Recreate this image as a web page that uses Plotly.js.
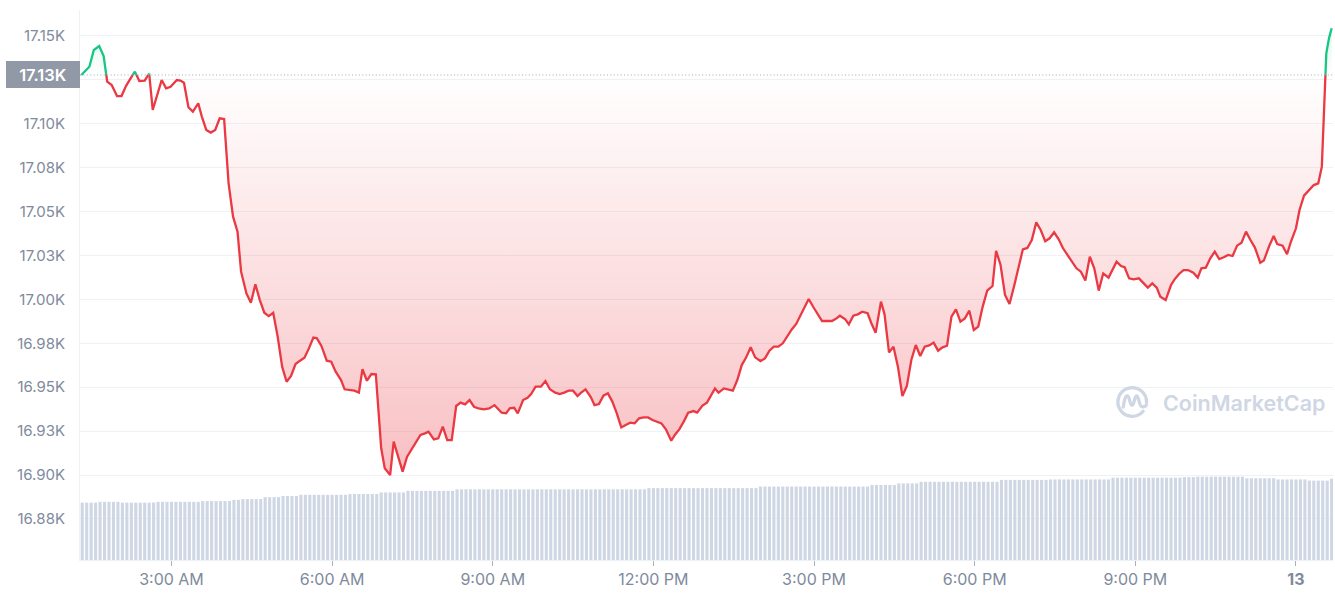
<!DOCTYPE html>
<html>
<head>
<meta charset="utf-8">
<script src="https://cdn.plot.ly/plotly-3.0.1.min.js"></script>
<style>
html,body{margin:0;padding:0;background:#fff;}
#chart{width:1335px;height:600px;}
</style>
</head>
<body>
<div id="chart"></div>
<script>
// ---- DATA ----
// minutes after 00:00 on 2022-12-12
const priceMinutes = [
79,88,93,99,104,108,113,119,124,129,133,139,144,150,155,159,164,169,174,179,186,190,194,199,204,210,214,219,224,229,234,239,244,249,254,258,264,269,274,279,284,289,294,299,304,309,
314,319,324,329,334,339,343,348,354,359,364,370,374,380,385,390,394,399,404,409,415,419,425,429,434,439,444,450,455,459,464,468,474,479,484,489,494,499,504,509,514,519,524,530,536,542,
550,555,559,564,568,574,579,583,588,594,599,604,610,615,620,625,630,635,639,644,650,654,659,664,669,674,679,684,689,694,699,704,709,714,719,724,729,734,740,744,749,754,759,765,769,775,780,
789,793,799,805,809,814,819,824,829,834,840,845,850,855,860,865,870,875,880,886,890,894,899,905,909,914,920,924,929,935,939,944,949,954,960,964,969,975,979,984,989,994,999,1004,1009,1014,
1019,1024,1029,1034,1039,1044,1049,1054,1059,1064,1069,1074,1079,1084,1089,1094,1100,1104,1109,1114,1119,1124,1129,1134,1139,1144,1149,1154,1159,1164,1169,1174,1179,1184,1189,1194,1199,1204,1209,1214,1219,1224,1230,1234,1239,1244,1248,
1253,1258,1264,1269,1274,1279,1284,1288,1294,1300,1304,1309,1314,1319,1325,1330,1334,1339,1344,1349,1354,1359,1364,1369,1374,1379,1384,1389,1394,1400,1404,1410,1415,1419,1425,1430,1434,1440,1444,1449,1455,1460,1465,1469,1474,1477,1480
];
const prices = [
17127.8,17132.5,17142.0,17144.3,17138.6,17124.0,17122.1,17115.8,17115.8,17121.5,17124.9,17129.7,17124.4,17124.6,17128.6,17107.9,17116.4,17124.9,17120.2,17121.1,17124.9,17124.6,17123.4,17109.4,17106.9,17111.7,17104.1,17096.5,17095.0,17096.5,17103.1,17102.7,17066.1,17047.1,17038.6,17015.8,17003.4,16998.1,17008.6,16999.6,16992.4,16990.5,16992.4,16978.8,16961.7,16953.1,
16956.4,16963.2,16965.1,16966.8,16972.1,16978.2,16977.8,16973.5,16965.1,16964.5,16958.8,16954.1,16948.8,16948.4,16948.0,16946.9,16960.2,16953.7,16957.5,16957.3,16915.2,16903.8,16900.0,16919.0,16910.4,16901.9,16910.4,16915.2,16919.0,16922.8,16923.7,16924.7,16920.3,16920.9,16927.5,16919.9,16919.9,16939.3,16941.2,16940.2,16942.7,16938.9,16937.9,16937.4,16937.9,16939.8,
16935.5,16935.1,16938.0,16938.3,16935.1,16942.7,16944.0,16946.1,16950.3,16950.3,16953.5,16948.8,16946.9,16946.1,16946.9,16948.0,16948.0,16945.0,16946.9,16948.8,16944.2,16939.8,16940.4,16945.2,16946.5,16941.8,16935.1,16927.1,16928.5,16929.8,16929.4,16932.3,16932.8,16932.8,16931.3,16930.4,16929.4,16926.0,16919.5,16922.8,16926.0,16930.4,16935.5,16936.4,16935.5,16939.5,16941.2,
16949.3,16946.9,16949.3,16948.4,16948.0,16954.1,16962.6,16967.0,16972.7,16967.0,16964.9,16966.4,16970.8,16973.1,16973.1,16975.0,16979.1,16982.9,16986.0,16992.1,16996.4,17000.2,16995.8,16991.1,16987.7,16987.7,16987.7,16988.8,16990.7,16988.6,16985.8,16990.7,16991.5,16993.0,16992.1,16986.7,16981.0,16998.7,16991.5,16969.8,16973.1,16961.7,16945.0,16950.7,16965.5,16974.0,
16967.8,16973.1,16973.8,16975.4,16970.8,16972.7,16973.6,16990.2,16994.3,16987.3,16989.2,16993.6,16982.6,16984.5,16995.9,17005.0,17007.6,17027.7,17019.6,17002.5,16997.4,17007.2,17017.7,17028.5,17029.3,17033.8,17043.9,17039.5,17033.1,17034.8,17038.2,17034.4,17029.1,17025.3,17021.5,17017.7,17015.8,17010.7,17024.3,17017.7,17005.0,17014.8,17012.4,17016.7,17021.5,17019.0,17018.3,
17012.0,17011.4,17012.0,17009.5,17006.7,17009.1,17006.7,17001.5,16999.6,17008.2,17011.4,17014.5,17016.7,17016.7,17015.2,17012.4,17017.7,17018.1,17023.4,17027.2,17023.0,17024.0,17025.3,17024.7,17030.6,17032.3,17038.6,17033.8,17029.5,17020.9,17022.1,17030.4,17036.1,17031.5,17030.6,17025.7,17032.3,17040.5,17050.9,17059.1,17062.3,17065.1,17066.1,17075.6,17140.1,17148.7,17154.4
];
// 24h volume (billion USD), one bar per 5-minute step starting 01:20
const volumes = [
14.6,14.6,14.6,14.6,14.8,14.8,14.8,14.8,14.8,14.6,14.6,14.6,14.6,14.6,14.6,14.6,14.6,14.8,14.8,14.8,14.8,14.8,14.8,14.8,14.8,14.8,14.8,
15.0,15.0,15.0,15.0,15.0,15.0,15.0,15.3,15.3,15.5,15.5,15.5,15.5,15.5,16.0,16.0,16.0,16.0,16.3,16.3,16.3,16.3,
16.6,16.6,16.6,16.6,16.6,16.6,16.6,16.6,16.6,16.6,16.6,16.8,16.8,16.8,16.8,16.8,16.8,16.8,17.2,17.2,17.2,17.2,17.2,17.2,
17.6,17.6,17.6,17.6,17.6,17.6,17.6,17.6,17.6,17.6,17.6,
18.0,18.0,18.0,18.0,18.0,18.0,18.0,18.0,18.0,18.0,18.0,18.0,18.0,18.0,18.0,18.0,18.0,18.0,18.0,18.0,18.0,18.0,18.0,18.0,18.0,18.0,18.0,18.0,18.0,18.0,18.0,18.0,18.0,18.0,18.0,18.0,18.0,18.0,18.0,18.0,18.0,18.0,18.0,
18.3,18.3,18.3,18.3,18.3,18.3,18.3,18.3,18.3,18.3,18.3,18.3,18.3,18.3,18.3,18.3,18.3,18.3,18.3,18.3,18.3,18.3,18.3,18.3,18.3,
18.7,18.7,18.7,18.7,18.7,18.7,18.7,18.7,18.7,18.7,18.7,18.7,18.7,18.7,18.7,18.7,18.7,18.7,18.7,18.7,18.7,18.7,18.7,18.7,18.7,
19.1,19.1,19.1,19.1,19.1,19.1,19.5,19.5,19.5,19.5,19.5,
19.9,19.9,19.9,19.9,19.9,19.9,19.9,19.9,19.9,19.9,19.9,19.9,19.9,19.9,19.9,19.9,19.9,19.9,
20.4,20.4,20.4,20.4,20.4,20.4,20.4,20.4,20.4,20.4,20.4,
20.5,20.5,20.5,20.5,20.5,20.5,20.5,20.5,20.5,20.5,20.5,20.5,20.5,20.5,
20.95,20.95,20.95,20.95,20.95,20.95,20.95,20.95,20.95,20.95,20.95,20.95,20.95,20.95,20.95,20.95,
21.1,21.1,21.1,21.2,21.2,21.2,21.2,21.2,21.2,21.2,21.2,21.2,21.2,21.2,
20.8,20.8,20.8,20.8,20.8,20.8,20.8,20.5,20.5,20.5,20.5,20.5,20.5,20.5,20.2,20.2,20.2,20.2,20.2,20.7
];
const volumeStartMinute = 80;
const volumeStepMinutes = 5;
const yTickVals = [16875,16900,16925,16950,16975,17000,17025,17050,17075,17100,17125,17150];
const yTickText = ['16.88K','16.90K','16.93K','16.95K','16.98K','17.00K','17.03K','17.05K','17.08K','17.10K','','17.15K'];
const xTickMinutes = [180,360,540,720,900,1080,1260,1440];
const xTickText = ['3:00 AM','6:00 AM','9:00 AM','12:00 PM','3:00 PM','6:00 PM','9:00 PM','<b>13</b>'];

// ---- HELPERS ----
function toDate(min){
  const d = new Date(Date.UTC(2022,11,12,0,0,0) + min*60000);
  const p = n => String(n).padStart(2,'0');
  return d.getUTCFullYear()+'-'+p(d.getUTCMonth()+1)+'-'+p(d.getUTCDate())+' '+p(d.getUTCHours())+':'+p(d.getUTCMinutes())+':'+p(d.getUTCSeconds());
}
const base = prices[0];
const RED = '#ea3943', GREEN = '#16c784';

// insert crossing points with the opening-price baseline
const augM = [], augP = [];
for (let i=0;i<prices.length;i++){
  if (i>0){
    const a = prices[i-1]-base, b = prices[i]-base;
    if ((a<0 && b>0) || (a>0 && b<0)){
      const f = a/(a-b);
      augM.push(priceMinutes[i-1] + f*(priceMinutes[i]-priceMinutes[i-1]));
      augP.push(base);
    }
  }
  augM.push(priceMinutes[i]); augP.push(prices[i]);
}
const augX = augM.map(toDate);
const lowY = augP.map(v => Math.min(v, base));
const highY = augP.map(v => Math.max(v, base));
const redLine = augP.map(v => v <= base ? v : null);
const greenLine = augP.map(v => v >= base ? v : null);
const baseX = [augX[0], augX[augX.length-1]];

const volX = volumes.map((_,i)=>toDate(volumeStartMinute + i*volumeStepMinutes));

const traces = [
  {type:'bar', x:volX, y:volumes, yaxis:'y2', marker:{color:'#cfd6e4'}, hoverinfo:'skip', showlegend:false},
  {type:'scatter', mode:'lines', x:baseX, y:[base,base], line:{width:0, color:'rgba(0,0,0,0)'}, hoverinfo:'skip', showlegend:false},
  {type:'scatter', mode:'lines', x:augX, y:lowY, fill:'tonexty', line:{width:0, color:'rgba(0,0,0,0)'},
   fillcolor:'rgba(234,57,67,0.15)',
   fillgradient:{type:'vertical', colorscale:[[0,'rgba(234,57,67,0.32)'],[1,'rgba(234,57,67,0.0)']]},
   hoverinfo:'skip', showlegend:false},
  {type:'scatter', mode:'lines', x:baseX, y:[base,base], line:{width:0, color:'rgba(0,0,0,0)'}, hoverinfo:'skip', showlegend:false},
  {type:'scatter', mode:'lines', x:augX, y:highY, fill:'tonexty', line:{width:0, color:'rgba(0,0,0,0)'},
   fillcolor:'rgba(22,199,132,0.06)',
   fillgradient:{type:'vertical', colorscale:[[0,'rgba(22,199,132,0.0)'],[1,'rgba(22,199,132,0.15)']]},
   hoverinfo:'skip', showlegend:false},
  {type:'scatter', mode:'lines', x:augX, y:redLine, line:{color:RED, width:2.3}, connectgaps:false, showlegend:false},
  {type:'scatter', mode:'lines', x:augX, y:greenLine, line:{color:GREEN, width:2.3}, connectgaps:false, showlegend:false}
];

const FONT = 'Inter, "Noto Sans", sans-serif';
const logoSvg = '<svg xmlns="http://www.w3.org/2000/svg" viewBox="0 0 40 40">'+
  '<path d="M31.5 29.5 A15.5 15.5 0 1 1 35.2 20" fill="none" stroke="#cfd6e4" stroke-width="3.6" stroke-linecap="round"/>'+
  '<path d="M10 25 C11 18 12 13 14.5 13 C17 13 17 23 19.5 23 C22 23 22 13 24.5 13 C27 13 27 24 30 24.5 C32 25 34 24 35 23" fill="none" stroke="#cfd6e4" stroke-width="3.6" stroke-linecap="round" stroke-linejoin="round"/>'+
  '</svg>';
const logoUri = 'data:image/svg+xml;base64,' + btoa(logoSvg);

const layout = {
  width:1335, height:600,
  margin:{l:80, r:2, t:10, b:40},
  paper_bgcolor:'#ffffff', plot_bgcolor:'#ffffff',
  font:{family:FONT, color:'#808a9d', size:15},
  bargap:0.3,
  showlegend:false,
  xaxis:{
    type:'date',
    range:[toDate(77.5), toDate(1481.5)],
    tickvals:xTickMinutes.map(toDate), ticktext:xTickText,
    showgrid:false, zeroline:false,
    showline:true, linecolor:'#eff2f5', linewidth:1,
    ticks:'outside', ticklen:5, tickcolor:'#a6b0c3', tickwidth:1,
    tickfont:{family:FONT, size:16, color:'#808a9d'},
    fixedrange:true
  },
  yaxis:{
    range:[16851.6, 17164.8],
    tickvals:yTickVals, ticktext:yTickText,
    showgrid:true, gridcolor:'#eff2f5', gridwidth:1,
    zeroline:false,
    showline:true, linecolor:'#eff2f5', linewidth:1,
    ticks:'outside', ticklen:11, tickcolor:'rgba(0,0,0,0)',
    tickfont:{family:FONT, size:15, color:'#808a9d'},
    fixedrange:true
  },
  yaxis2:{
    overlaying:'y', range:[0,140], showgrid:false, showticklabels:false,
    zeroline:false, showline:false, fixedrange:true
  },
  shapes:[
    {type:'line', xref:'paper', x0:0, x1:1, yref:'y', y0:base, y1:base,
     line:{color:'#a1a7b3', width:1, dash:'1px,2.4px'}, layer:'above'}
  ],
  annotations:[
    {xref:'paper', x:0, xanchor:'right', yref:'y', y:base, yanchor:'middle',
     text:(base/1000).toFixed(2)+'K', showarrow:false,
     font:{family:FONT, size:16.5, color:'#ffffff', weight:600},
     bgcolor:'#9198a6', bordercolor:'#9198a6', borderwidth:1, borderpad:4,
     width:64, height:17, align:'center'},
    {xref:'paper', x:(1161-80)/1253, xanchor:'left', yref:'paper', y:(560-403)/550, yanchor:'middle',
     text:'CoinMarketCap', showarrow:false,
     font:{family:FONT, size:21.5, color:'#cfd6e4', weight:600}}
  ],
  images:[
    {source:logoUri, xref:'paper', yref:'paper', x:(1114-80)/1253, y:(560-384)/550,
     sizex:37/1253, sizey:37/550, xanchor:'left', yanchor:'top', sizing:'contain', layer:'above'}
  ]
};

Plotly.newPlot('chart', traces, layout, {displayModeBar:false, staticPlot:true});
</script>
</body>
</html>
